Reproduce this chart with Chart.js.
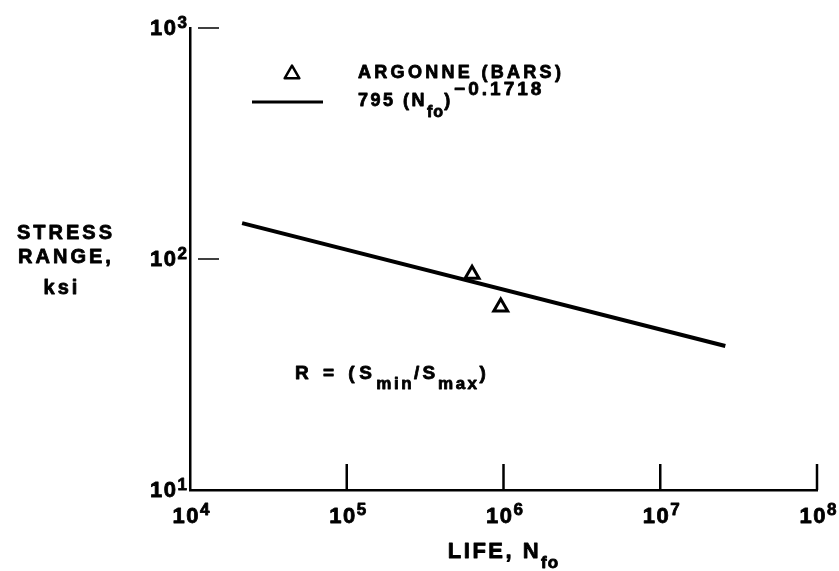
<!DOCTYPE html>
<html>
<head>
<meta charset="utf-8">
<script src="https://cdn.jsdelivr.net/npm/chart.js@4"></script>
<style>
  html, body { margin: 0; padding: 0; background: #fff; }
  #wrap { width: 839px; height: 571px; }
</style>
</head>
<body>
<div id="wrap"><canvas id="fatigueChart"></canvas></div>
<script>
// fit line 795 (Nfo)^-0.1718, end points
const lineLife = [2.15e4, 2.6e7];
const lineStress = [143, 42];
// Argonne bar tests
const argonneLife = [6.3e5, 9.6e5];
const argonneStress = [86, 62];
// decade ticks (exponents of 10)
const xTickExps = [4, 5, 6, 7, 8];
const yTickExps = [1, 2, 3];

const FONT = '"Liberation Sans", Arial, sans-serif';

function setFont(ctx, size, spacing) {
    ctx.font = 'bold ' + size + 'px ' + FONT;
    ctx.letterSpacing = (spacing || 0) + 'px';
}

// runs: [text, size, dy, spacing]
function runsWidth(ctx, runs) {
    let w = 0;
    runs.forEach(r => { setFont(ctx, r[1], r[3]); w += ctx.measureText(r[0]).width; });
    return w;
}
function drawRuns(ctx, x, y, runs) {
    runs.forEach(r => {
        setFont(ctx, r[1], r[3]);
        ctx.fillText(r[0], x, y + r[2]);
        ctx.strokeText(r[0], x, y + r[2]); // scanned type is heavy
        x += ctx.measureText(r[0]).width;
    });
    return x;
}

function triangle(ctx, x, y, r) {
    ctx.beginPath();
    ctx.moveTo(x, y - r);
    ctx.lineTo(x + r * Math.sqrt(3) / 2, y + r / 2);
    ctx.lineTo(x - r * Math.sqrt(3) / 2, y + r / 2);
    ctx.closePath();
    ctx.stroke();
}

const decorations = {
    id: 'decorations',
    afterDraw(chart) {
        const ctx = chart.ctx;
        const xs = chart.scales.x, ys = chart.scales.y;
        const area = chart.chartArea;
        ctx.save();
        ctx.fillStyle = '#000';
        ctx.strokeStyle = '#000';
        ctx.lineJoin = 'round';
        ctx.textBaseline = 'alphabetic';
        ctx.textAlign = 'left';

        // inward ticks
        ctx.lineWidth = 2.5;
        xTickExps.slice(1).forEach(e => {
            const px = xs.getPixelForValue(Math.pow(10, e));
            ctx.beginPath();
            ctx.moveTo(px, area.bottom - 26);
            ctx.lineTo(px, area.bottom);
            ctx.stroke();
        });
        ctx.lineWidth = 1.5;
        yTickExps.slice(1).forEach(e => {
            const py = ys.getPixelForValue(Math.pow(10, e));
            ctx.beginPath();
            ctx.moveTo(area.left + 8, py);
            ctx.lineTo(area.left + 29, py);
            ctx.stroke();
        });

        ctx.lineWidth = 0.8;
        // tick labels 10^n
        xTickExps.forEach(e => {
            const px = xs.getPixelForValue(Math.pow(10, e));
            const runs = [['10', 22, 0, 1.5], [String(e), 17, -8, 0]];
            const w = runsWidth(ctx, runs);
            drawRuns(ctx, px - w / 2 + 1, area.bottom + 33, runs);
        });
        yTickExps.forEach(e => {
            const py = ys.getPixelForValue(Math.pow(10, e));
            const runs = [['10', 22, 0, 1.5], [String(e), 17, -7, 0]];
            const w = runsWidth(ctx, runs);
            drawRuns(ctx, area.left - 3 - w, py + 7, runs);
        });

        // axis titles
        ctx.textAlign = 'center';
        [['STRESS', 66, 239], ['RANGE,', 66, 263], ['ksi', 62, 294]].forEach(t => {
            setFont(ctx, 20, 3);
            ctx.fillText(t[0], t[1], t[2]);
            ctx.strokeText(t[0], t[1], t[2]);
        });
        ctx.textAlign = 'left';
        const xt = [['LIFE, N', 22, 0, 2.5], ['fo', 17, 10, 1]];
        const xtw = runsWidth(ctx, xt);
        drawRuns(ctx, (area.left + area.right) / 2 - xtw / 2, area.bottom + 68, xt);

        // legend
        ctx.lineWidth = 2.5;
        triangle(ctx, 292, 74, 8.5);
        ctx.lineWidth = 0.8;
        drawRuns(ctx, 358, 78, [['ARGONNE (BARS)', 18, 0, 3.3]]);
        ctx.lineWidth = 3;
        ctx.beginPath();
        ctx.moveTo(252, 102);
        ctx.lineTo(323, 102);
        ctx.stroke();
        ctx.lineWidth = 0.8;
        drawRuns(ctx, 358, 106, [
            ['795 (N', 18, 0, 2.5], ['fo', 16, 11, 1], [')', 18, 0, 4],
            ['\u22120.1718', 19, -11, 3]
        ]);

        // ratio note
        drawRuns(ctx, 295, 379, [
            ['R = (S', 19, 0, 4.5], ['min', 17, 10, 2.5], ['/S', 19, 0, 3],
            ['max', 17, 10, 2.5], [')', 19, 0, 2]
        ]);
        ctx.restore();
    }
};

new Chart(document.getElementById('fatigueChart'), {
    type: 'scatter',
    data: {
        datasets: [{
            label: '795 (Nfo)^-0.1718',
            data: lineLife.map((v, i) => ({ x: v, y: lineStress[i] })),
            showLine: true,
            borderColor: '#000',
            borderWidth: 4,
            pointRadius: 0,
            order: 2
        }, {
            label: 'ARGONNE (BARS)',
            data: argonneLife.map((v, i) => ({ x: v, y: argonneStress[i] })),
            pointStyle: 'triangle',
            pointRadius: 8,
            borderWidth: 3,
            borderColor: '#000',
            backgroundColor: 'rgba(0,0,0,0)',
            order: 1
        }]
    },
    options: {
        responsive: true,
        maintainAspectRatio: false,
        animation: false,
        devicePixelRatio: 1,
        layout: { padding: { top: 28, right: 22, left: 0, bottom: 0 } },
        plugins: { legend: { display: false }, tooltip: { enabled: false } },
        scales: {
            x: {
                type: 'logarithmic',
                min: 1e4, max: 1e8,
                grid: { display: false },
                border: { display: true, color: '#000', width: 2.5 },
                ticks: { display: false },
                afterFit(s) { s.height = 81; }
            },
            y: {
                type: 'logarithmic',
                min: 10, max: 1000,
                grid: { display: false },
                border: { display: true, color: '#000', width: 2.5 },
                ticks: { display: false },
                afterFit(s) { s.width = 190; }
            }
        }
    },
    plugins: [decorations]
});
</script>
</body>
</html>
